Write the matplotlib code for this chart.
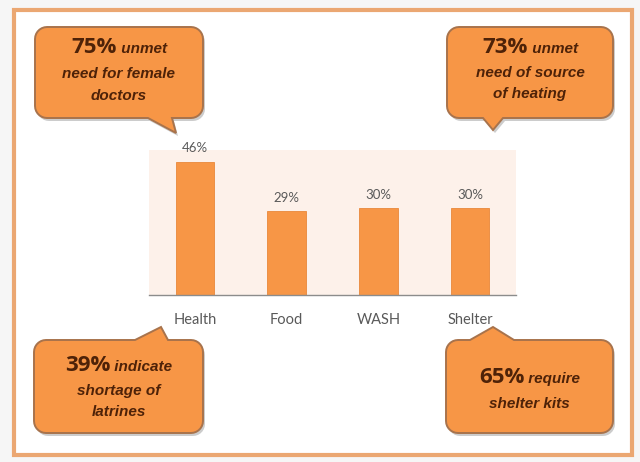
import numpy as np
import matplotlib
matplotlib.use('Agg')
import matplotlib.pyplot as plt
from matplotlib.patches import Polygon, Rectangle

plt.rcParams['font.family'] = ['Lato', 'DejaVu Sans']

categories = ['Health', 'Food', 'WASH', 'Shelter']
values = [46, 29, 30, 30]
value_labels = ['46%', '29%', '30%', '30%']

callout_pcts = ['75%', '73%', '39%', '65%']
callout_first = [' unmet', ' unmet', ' indicate', ' require']
callout_rest = [['need for female', 'doctors'],
                ['need of source', 'of heating'],
                ['shortage of', 'latrines'],
                ['shelter kits']]

ORANGE = '#F79646'
TEXT_DARK = '#4E2208'
ITALIC_FONT = ['Liberation Sans', 'DejaVu Sans']
PCT_FONT = ['Open Sans', 'DejaVu Sans']

W, H = 640, 462
fig = plt.figure(figsize=(W / 100, H / 100), dpi=100)
fig.patch.set_facecolor('#F6F6F6')

# background axes in pixel coordinates (y grows downwards)
bg = fig.add_axes([0, 0, 1, 1], zorder=0)
bg.set_xlim(0, W)
bg.set_ylim(H, 0)
bg.axis('off')
bg.add_patch(Rectangle((14, 10), 618, 445, facecolor='white',
                       edgecolor='#EBA772', lw=3))

# bar chart
ax = fig.add_axes([149 / W, 1 - 295 / H, 367 / W, 145 / H], zorder=1)
ax.set_facecolor('#FDF1EA')
x = np.arange(len(categories))
bars = ax.bar(x, values, width=0.42, color=ORANGE, edgecolor='#E9883A', lw=0.6)
for b, lab in zip(bars, value_labels):
    ax.text(b.get_x() + b.get_width() / 2, b.get_height() + 2.5, lab,
            ha='center', va='bottom', fontsize=9.5, color='#595959')
ax.set_xlim(-0.5, 3.5)
ax.set_ylim(0, 50)
ax.set_xticks(x)
ax.set_xticklabels(categories, fontsize=10.5, color='#595959')
ax.tick_params(axis='x', length=0, pad=13)
ax.set_yticks([])
for s in ['top', 'left', 'right']:
    ax.spines[s].set_visible(False)
ax.spines['bottom'].set_color('#8C8C8C')
ax.spines['bottom'].set_linewidth(1)

# callouts drawn on top
top = fig.add_axes([0, 0, 1, 1], zorder=2)
top.set_xlim(0, W)
top.set_ylim(H, 0)
top.axis('off')
top.patch.set_alpha(0)


def arc(cx, cy, r, a0, a1, n=8):
    t = np.radians(np.linspace(a0, a1, n))
    return [(cx + r * np.cos(a), cy + r * np.sin(a)) for a in t]


def callout(x0, y0, x1, y1, tail, side, r=12):
    bx0, tx, ty, bx1 = tail
    pts = [(x0 + r, y0)]
    if side == 'top':
        pts += [(bx0, y0), (tx, ty), (bx1, y0)]
    pts += arc(x1 - r, y0 + r, r, -90, 0)
    pts += arc(x1 - r, y1 - r, r, 0, 90)
    if side == 'bottom':
        pts += [(bx1, y1), (tx, ty), (bx0, y1)]
    pts += arc(x0 + r, y1 - r, r, 90, 180)
    pts += arc(x0 + r, y0 + r, r, 180, 270)
    shadow = [(px + 2, py + 3) for px, py in pts]
    top.add_patch(Polygon(shadow, closed=True, facecolor='#9A9A9A',
                          edgecolor='none', alpha=0.5))
    top.add_patch(Polygon(pts, closed=True, facecolor=ORANGE,
                          edgecolor='#A8734C', lw=1.4))


# box edges, tail (base left, tip x, tip y, base right), side of tail
boxes = [(35, 27, 203, 118, (148, 176, 133, 172), 'bottom'),
         (447, 27, 613, 118, (483, 493, 130, 503), 'bottom'),
         (34, 340, 203, 433, (135, 161, 327, 168), 'top'),
         (446, 340, 613, 433, (470, 493, 327, 514), 'top')]

line1_y = [53, 53, 371, 383]
line_gap = [25, 24, 24, 25]

fig.canvas.draw()
renderer = fig.canvas.get_renderer()

for i, (x0, y0, x1, y1, tail, side) in enumerate(boxes):
    callout(x0, y0, x1, y1, tail, side)
    cx = (x0 + x1) / 2
    ty = line1_y[i]
    t1 = top.text(0, ty, callout_pcts[i], fontsize=16, fontweight='bold',
                  family=PCT_FONT, color=TEXT_DARK, ha='left', va='baseline')
    t2 = top.text(0, ty, callout_first[i], fontsize=11, fontweight='bold',
                  style='italic', family=ITALIC_FONT, color=TEXT_DARK,
                  ha='left', va='baseline')
    w1 = t1.get_window_extent(renderer).width
    w2 = t2.get_window_extent(renderer).width
    start = cx - (w1 + w2) / 2
    t1.set_x(start)
    t2.set_x(start + w1)
    for j, line in enumerate(callout_rest[i]):
        top.text(cx, ty + line_gap[i] * (j + 1) - (3 if j else 0), line,
                 fontsize=11, fontweight='bold', style='italic',
                 family=ITALIC_FONT, color=TEXT_DARK,
                 ha='center', va='baseline')

fig.savefig('out.png', dpi=100)
